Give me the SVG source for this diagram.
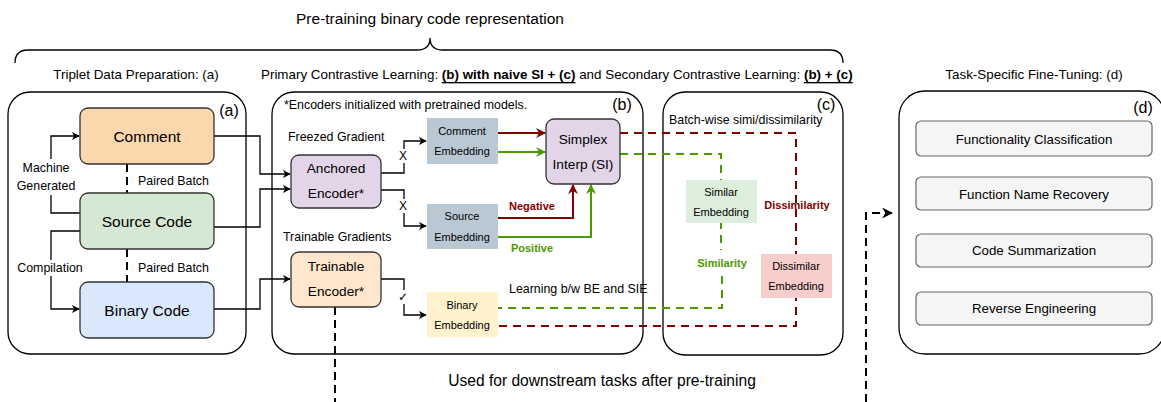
<svg xmlns="http://www.w3.org/2000/svg" width="1161" height="402" viewBox="0 0 1161 402">
<style>
text{font-family:"Liberation Sans",Arial,sans-serif;fill:#000}
.c{text-anchor:middle;dominant-baseline:central}
.l{dominant-baseline:central}
.s{font-size:12.4px}
.frame{fill:none;stroke:#000;stroke-width:1.3}
.node{stroke:#333;stroke-width:1.3}
.ln{fill:none;stroke:#000;stroke-width:1.3}
.red{fill:none;stroke:#800000;stroke-width:2}
.grn{fill:none;stroke:#4D9900;stroke-width:2}
.rd{fill:none;stroke:#800000;stroke-width:2;stroke-dasharray:8 6}
.gd{fill:none;stroke:#4D9900;stroke-width:2;stroke-dasharray:8 6}
.bd{fill:none;stroke:#000;stroke-width:2;stroke-dasharray:8 5}
.task{fill:#F5F5F5;stroke:#666;stroke-width:1.2}
</style>
<defs>
<marker id="ak" viewBox="0 0 10 10" refX="9" refY="5" markerWidth="8" markerHeight="8" markerUnits="userSpaceOnUse" orient="auto"><path d="M0,0 L10,5 L0,10 L3,5 z" fill="#000"/></marker>
<marker id="ak2" viewBox="0 0 10 10" refX="9" refY="5" markerWidth="11" markerHeight="11" markerUnits="userSpaceOnUse" orient="auto"><path d="M0,0 L10,5 L0,10 L3,5 z" fill="#000"/></marker>
<marker id="ar" viewBox="0 0 10 10" refX="9" refY="5" markerWidth="10" markerHeight="10" markerUnits="userSpaceOnUse" orient="auto"><path d="M0,0 L10,5 L0,10 L3,5 z" fill="#800000"/></marker>
<marker id="ag" viewBox="0 0 10 10" refX="9" refY="5" markerWidth="10" markerHeight="10" markerUnits="userSpaceOnUse" orient="auto"><path d="M0,0 L10,5 L0,10 L3,5 z" fill="#4D9900"/></marker>
</defs>
<rect width="1161" height="402" fill="#fff"/>

<g id="header">
<text class="c" x="430" y="18" font-size="15.5">Pre-training binary code representation</text>
<path class="ln" d="M15,63 Q15,50 28,50 L417,50 Q430,50 430,38 Q430,50 443,50 L830,50 Q843,50 843,63"/>
<text class="c" x="136" y="74" font-size="13.4">Triplet Data Preparation: (a)</text>
<text x="261" y="74" font-size="13.4" class="l">Primary Contrastive Learning: <tspan font-weight="bold" text-decoration="underline">(b) with naive SI + (c)</tspan> and Secondary Contrastive Learning: <tspan font-weight="bold" text-decoration="underline">(b) + (c)</tspan></text>
<text class="c" x="1034" y="74" font-size="13.4">Task-Specific Fine-Tuning: (d)</text>
<text class="c" x="602" y="380" font-size="15.6">Used for downstream tasks after pre-training</text>
</g>

<g id="frame-a">
<rect class="frame" x="8" y="92" width="238" height="262" rx="22"/>
<text class="c" x="229" y="110" font-size="16">(a)</text>
</g>
<g id="frame-b">
<rect class="frame" x="272" y="92" width="371" height="262" rx="22"/>
<text class="c" x="622" y="104" font-size="16">(b)</text>
<text x="284" y="105" class="l s">*Encoders initialized with pretrained models.</text>
<text x="288" y="137" class="l s">Freezed Gradient</text>
<text x="283" y="237" class="l s">Trainable Gradients</text>
<text x="509" y="289" class="l s">Learning b/w BE and SIE</text>
</g>
<g id="frame-c">
<rect class="frame" x="663" y="92" width="180" height="263" rx="22"/>
<text class="c" x="826" y="104" font-size="16">(c)</text>
<text x="669" y="120" class="l s">Batch-wise simi/dissimilarity</text>
</g>
<g id="frame-d">
<rect class="frame" x="899" y="91" width="266" height="263" rx="26"/>
<text class="c" x="1143" y="107" font-size="16">(d)</text>
</g>

<g id="connectors">
<path class="ln" d="M80,213 L51,213 L51,136 L79,136" marker-end="url(#ak)"/>
<path class="ln" d="M80,231 L51,231 L51,309 L79,309" marker-end="url(#ak)"/>
<path class="bd" d="M127,164 L127,193"/>
<path class="bd" d="M127,249 L127,282"/>
<path class="ln" d="M214,136 L260,136 L260,174 L290,174" marker-end="url(#ak)"/>
<path class="ln" d="M214,227 L260,227 L260,189 L290,189" marker-end="url(#ak)"/>
<path class="ln" d="M214,309 L260,309 L260,279 L290,279" marker-end="url(#ak)"/>
<path class="ln" d="M381,173 L404,173 L404,141 L426,141" marker-end="url(#ak)"/>
<path class="ln" d="M381,190 L404,190 L404,226 L426,226" marker-end="url(#ak)"/>
<path class="ln" d="M381,279 L404,279 L404,315 L426,315" marker-end="url(#ak)"/>
<rect x="398" y="149" width="12" height="14" fill="#fff"/>
<text class="c" x="403" y="156" font-size="12">X</text>
<rect x="398" y="199" width="12" height="14" fill="#fff"/>
<text class="c" x="403" y="206" font-size="12">X</text>
<rect x="398" y="290" width="12" height="14" fill="#fff"/>
<text class="c" x="403" y="297" font-size="12">✓</text>
<path class="red" d="M498,133 L545,133" marker-end="url(#ar)"/>
<path class="grn" d="M498,152 L545,152" marker-end="url(#ag)"/>
<path class="red" d="M498,218 L573,218 L573,185" marker-end="url(#ar)"/>
<path class="grn" d="M498,237 L591,237 L591,185" marker-end="url(#ag)"/>
<text class="c" x="532" y="206" font-size="11" font-weight="bold" style="fill:#800000">Negative</text>
<text class="c" x="532" y="248" font-size="11" font-weight="bold" style="fill:#4D9900">Positive</text>
<path class="rd" d="M620,133 L796,133 L796,326 L498,326"/>
<path class="gd" d="M620,154 L721,154 L721,250"/>
<path class="gd" d="M722,276 L722,308 L498,308"/>
<text class="c" x="797" y="205" font-size="11" font-weight="bold" style="fill:#800000">Dissimilarity</text>
<text class="c" x="722" y="263" font-size="11" font-weight="bold" style="fill:#4D9900">Similarity</text>
<path class="bd" d="M335,307 L335,402"/>
<path class="bd" d="M866,402 L866,213 L892,213" marker-end="url(#ak2)"/>
</g>

<g id="comment">
<rect class="node" x="80" y="108" width="134" height="56" rx="8" fill="#FAD7AC"/>
<text class="c" x="147" y="136" font-size="15.5">Comment</text>
</g>
<g id="source-code">
<rect class="node" x="80" y="193" width="134" height="56" rx="8" fill="#D5E8D4"/>
<text class="c" x="147" y="221" font-size="15.5">Source Code</text>
</g>
<g id="binary-code">
<rect class="node" x="80" y="282" width="134" height="56" rx="8" fill="#DAE8FC"/>
<text class="c" x="147" y="310" font-size="15.5">Binary Code</text>
</g>
<g id="labels-a">
<rect x="17" y="159" width="60" height="36" fill="#fff"/>
<text class="c s" x="46" y="168">Machine</text>
<text class="c s" x="46" y="186">Generated</text>
<rect x="16" y="260" width="69" height="16" fill="#fff"/>
<text class="c s" x="50" y="268">Compilation</text>
<text x="138" y="181" class="l s">Paired Batch</text>
<text x="138" y="268" class="l s">Paired Batch</text>
</g>

<g id="anchored-encoder">
<rect class="node" x="291" y="155" width="90" height="53" rx="8" fill="#E1D5E7"/>
<text class="c" x="336" y="168" font-size="13.7">Anchored</text>
<text class="c" x="336" y="193" font-size="13.7">Encoder*</text>
</g>
<g id="trainable-encoder">
<rect class="node" x="291" y="252" width="90" height="55" rx="8" fill="#FFE6CC"/>
<text class="c" x="336" y="266" font-size="13.7">Trainable</text>
<text class="c" x="336" y="291" font-size="13.7">Encoder*</text>
</g>
<g id="comment-embedding">
<rect x="427" y="118" width="71" height="46" fill="#BAC8D3"/>
<text class="c" x="462" y="131" font-size="11">Comment</text>
<text class="c" x="462" y="151" font-size="11">Embedding</text>
</g>
<g id="source-embedding">
<rect x="427" y="204" width="71" height="45" fill="#BAC8D3"/>
<text class="c" x="462" y="216" font-size="11">Source</text>
<text class="c" x="462" y="237" font-size="11">Embedding</text>
</g>
<g id="binary-embedding">
<rect x="427" y="292" width="71" height="45" fill="#FFF2CC"/>
<text class="c" x="462" y="305" font-size="11">Binary</text>
<text class="c" x="462" y="325" font-size="11">Embedding</text>
</g>
<g id="simplex">
<rect class="node" x="546" y="119" width="74" height="65" rx="8" fill="#E1D5E7"/>
<text class="c" x="583" y="139" font-size="13.7">Simplex</text>
<text class="c" x="583" y="164" font-size="13.7">Interp (SI)</text>
</g>
<g id="similar-embedding">
<rect x="686" y="180" width="71" height="43" fill="#DDEFDC"/>
<text class="c" x="721" y="192" font-size="11">Similar</text>
<text class="c" x="721" y="212" font-size="11">Embedding</text>
</g>
<g id="dissimilar-embedding">
<rect x="761" y="254" width="71" height="44" fill="#F8CECC"/>
<text class="c" x="796" y="266" font-size="11">Dissimilar</text>
<text class="c" x="796" y="286" font-size="11">Embedding</text>
</g>

<g id="task-1"><rect class="task" x="916" y="121" width="236" height="35" rx="5"/><text class="c" x="1034" y="139" font-size="13.3">Functionality Classification</text></g>
<g id="task-2"><rect class="task" x="916" y="177" width="236" height="33" rx="5"/><text class="c" x="1034" y="194" font-size="13.3">Function Name Recovery</text></g>
<g id="task-3"><rect class="task" x="916" y="234" width="236" height="33" rx="5"/><text class="c" x="1034" y="250" font-size="13.3">Code Summarization</text></g>
<g id="task-4"><rect class="task" x="916" y="292" width="236" height="33" rx="5"/><text class="c" x="1034" y="308" font-size="13.3">Reverse Engineering</text></g>
</svg>
